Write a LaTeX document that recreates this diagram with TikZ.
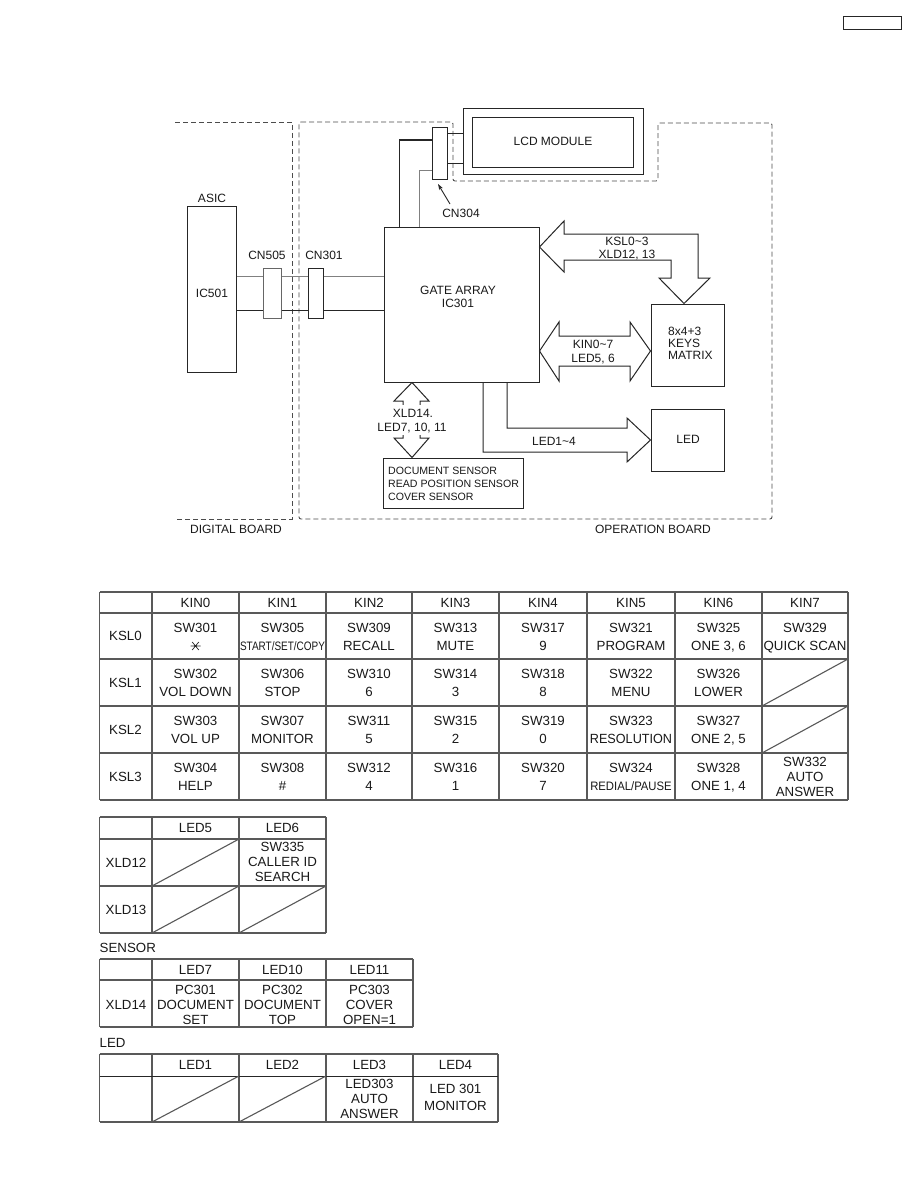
\documentclass[tikz,border=0pt]{standalone}
\usepackage{fontspec}
\usepackage{graphicx}
\setmainfont{Liberation Sans}
\usetikzlibrary{fit,arrows.meta}
\newcommand\mycell[5]{%
  \node[tb] (#1a) at (#2,#3+15) {#4};
  \node[tb] (#1b) at (#2,#3+33) {#5};}
\newcommand\mycelliii[6]{%
  \node[tb] (#1a) at (#2,#3) {#4};
  \node[tb] (#1b) at (#2,#3+15) {#5};
  \node[tb] (#1c) at (#2,#3+30) {#6};}
\begin{document}
\begin{tikzpicture}[x=1pt,y=-1pt,
  ln/.style={draw=black!85,line width=1pt},
  lg/.style={draw=black!50,line width=1pt},
  dsh/.style={draw=black!70,line width=0.9pt,dash pattern=on 5pt off 3pt},
  box/.style={ln,inner sep=0pt,fit={#1}},
  tl/.style={draw=black!65,line width=1.1pt},
  tb/.style={inner sep=0pt,text=black!90,font=\fontsize{13.3}{15}\selectfont,text height=9.5pt,text depth=0pt},
  bd/.style={inner sep=0pt,text=black!90,font=\fontsize{12}{14}\selectfont,text height=8.6pt,text depth=0pt},
  sm/.style={inner sep=0pt,text=black!90,font=\fontsize{10.6}{12}\selectfont,text height=7.6pt,text depth=0pt}]
\useasboundingbox[fill=white] (0,0) rectangle (918,1188);

% top-right empty box
\node[box={(843,17)(901,30)}] (corner) {};

% ---------- block diagram ----------
\draw[dsh] (175,122) -- (292,122) -- (292,519) -- (175,519);
\draw[dsh,rounded corners=2pt] (299,122) -- (453,122) -- (453,181) -- (658,181) -- (658,123) -- (772,123) -- (772,519) -- (299,519) -- cycle;

\node[box={(463,108.5)(643,174)}] (lcdout) {};
\node[box={(472,118)(633,167)}] (lcd) {};
\node[bd] (lcdt) at (553,141) {LCD MODULE};

\node[box={(432,128)(447,179)}] (cn304) {};
\draw[ln] (cn304.east |- 0,134) -- (lcdout.west |- 0,134);
\draw[ln] (cn304.east |- 0,163) -- (lcdout.west |- 0,163);

\node[box={(187,206)(236,372)}] (asic) {};
\node[bd] (asict) at (212,198) {ASIC};
\node[bd] (ic501) at (212,293) {IC501};

\node[box={(263,268)(281,318)},draw=black!60] (cn505) {};
\node[box={(308,268)(323,318)}] (cn301) {};
\node[bd] (cn505t) at (267,255) {CN505};
\node[bd] (cn301t) at (324,255) {CN301};

\node[box={(384,227)(539,382)}] (gate) {};
\node[bd] (gatet) at (458,290) {GATE ARRAY};
\node[bd] (ic301) at (458,303) {IC301};

\draw[lg] (asic.east |- 0,276) -- (cn505.west |- 0,276);
\draw[lg] (cn505.east |- 0,276) -- (cn301.west |- 0,276);
\draw[lg] (cn301.east |- 0,276) -- (gate.west |- 0,276);
\draw[ln] (asic.east |- 0,310) -- (cn505.west |- 0,310);
\draw[ln] (cn505.east |- 0,310) -- (cn301.west |- 0,310);
\draw[ln] (cn301.east |- 0,310) -- (gate.west |- 0,310);

\draw[ln] (cn304.west |- 0,140) -- (399,140) -- (gate.north -| 399,0);
\draw[lg] (cn304.west |- 0,170) -- (419,170) -- (gate.north -| 419,0);

\node[bd] (cn304t) at (461,213) {CN304};
\coordinate (cn304p) at (438,184);
\draw[draw=black!85,line width=0.9pt,-{Stealth[length=6pt,width=4pt]}] (450,204) -- (cn304p);

\node[box={(651,304)(724,386)}] (keys) {};
\node[bd,anchor=west] (keys1) at (668,331) {8x4+3};
\node[bd,anchor=west] (keys2) at (668,343) {KEYS};
\node[bd,anchor=west] (keys3) at (668,355) {MATRIX};

\node[box={(651,409)(724,471)}] (led) {};
\node[bd] (ledt) at (688,439) {LED};

\node[box={(383,458)(523,508)}] (sensor) {};
\node[sm,anchor=west] (sen1) at (388,471) {DOCUMENT SENSOR};
\node[sm,anchor=west] (sen2) at (388,484) {READ POSITION SENSOR};
\node[sm,anchor=west] (sen3) at (388,497) {COVER SENSOR};

% KSL arrow
\draw[ln,line join=miter] (gate.east |- 0,247) -- (564,221) -- (564,234) -- (698,234) -- (698,278) -- (710,278) -- (keys.north -| 684,0) -- (659,278) -- (671,278) -- (671,260) -- (564,260) -- (564,272) -- cycle;
\node[bd] (kslt) at (627,241) {KSL0\textasciitilde3};
\node[bd] (xld1213) at (627,254) {XLD12, 13};

% KIN arrow
\draw[ln,line join=miter] (gate.east |- 0,351) -- (559,322) -- (559,336) -- (630,336) -- (630,322) -- (keys.west |- 0,351) -- (630,381) -- (630,366) -- (559,366) -- (559,381) -- cycle;
\node[bd] (kint) at (593,344) {KIN0\textasciitilde7};
\node[bd] (led56) at (593,358) {LED5, 6};

% LED arrow
\draw[ln,line join=miter] (gate.south -| 507,0) -- (507,428) -- (627,428) -- (627,418) -- (led.west |- 0,440) -- (627,462) -- (627,452) -- (483,452) -- (gate.south -| 483,0);
\node[bd] (led14) at (554,441) {LED1\textasciitilde4};

% XLD14 arrow
\draw[ln,line join=miter] (gate.south -| 412,0) -- (429,401) -- (420,401) -- (420,438) -- (429,438) -- (sensor.north -| 412,0) -- (394,438) -- (403,438) -- (403,401) -- (394,401) -- cycle;
\node[bd,fill=white,inner xsep=1pt,inner ysep=3.5pt] (xld14a) at (413,413) {XLD14.};
\node[bd,fill=white,inner xsep=1pt,inner ysep=3.5pt] (xld14b) at (412,427) {LED7, 10, 11};

\node[bd] (dig) at (236,529) {DIGITAL BOARD};
\node[bd] (opb) at (653,529) {OPERATION BOARD};

% ---------- main key table ----------
\foreach \x in {99.5,152,239,326,412,499,587,675,762,848} \draw[tl] (\x,592) -- (\x,800);
\foreach \y in {592,613,659,706,753,800} \draw[tl] (99.5,\y) -- (848,\y);
\foreach \n/\x in {0/195.5,1/282.5,2/369,3/455.5,4/543,5/631,6/718.5,7/805}
  \node[tb] (kin\n) at (\x,603) {KIN\n};
\foreach \n/\y in {0/636,1/682.5,2/729.5,3/776.5}
  \node[tb] (ksl\n) at (125.5,\y) {KSL\n};

% KSL0
\node[tb] (c00a) at (195.5,628) {SW301};
\node[inner sep=0pt,minimum size=10pt] (c00b) at (195.5,646) {};
\draw[draw=black!85,line width=0.7pt] ([xshift=-5pt]c00b.center) -- ([xshift=5pt]c00b.center)
  ([shift={(-3.3pt,4pt)}]c00b.center) -- ([shift={(3.3pt,-4pt)}]c00b.center)
  ([shift={(-3.3pt,-4pt)}]c00b.center) -- ([shift={(3.3pt,4pt)}]c00b.center);
\node[tb] (c10a) at (282.5,628) {SW305};
\node[tb] (c10b) at (282.5,646) {\scalebox{0.75}[0.92]{START/SET/COPY}};
\mycell{c20}{369}{613}{SW309}{RECALL}
\mycell{c30}{455.5}{613}{SW313}{MUTE}
\mycell{c40}{543}{613}{SW317}{9}
\mycell{c50}{631}{613}{SW321}{PROGRAM}
\mycell{c60}{718.5}{613}{SW325}{ONE 3, 6}
\mycell{c70}{805}{613}{SW329}{QUICK SCAN}
% KSL1
\mycell{c01}{195.5}{659}{SW302}{VOL DOWN}
\mycell{c11}{282.5}{659}{SW306}{STOP}
\mycell{c21}{369}{659}{SW310}{6}
\mycell{c31}{455.5}{659}{SW314}{3}
\mycell{c41}{543}{659}{SW318}{8}
\mycell{c51}{631}{659}{SW322}{MENU}
\mycell{c61}{718.5}{659}{SW326}{LOWER}
\draw[tl] (762,706) -- (848,659);
% KSL2
\mycell{c02}{195.5}{706}{SW303}{VOL UP}
\mycell{c12}{282.5}{706}{SW307}{MONITOR}
\mycell{c22}{369}{706}{SW311}{5}
\mycell{c32}{455.5}{706}{SW315}{2}
\mycell{c42}{543}{706}{SW319}{0}
\node[tb] (c52a) at (631,721) {SW323};
\node[tb] (c52b) at (631,739) {\scalebox{0.95}[1]{RESOLUTION}};
\mycell{c62}{718.5}{706}{SW327}{ONE 2, 5}
\draw[tl] (762,753) -- (848,706);
% KSL3
\mycell{c03}{195.5}{753}{SW304}{HELP}
\mycell{c13}{282.5}{753}{SW308}{\#}
\mycell{c23}{369}{753}{SW312}{4}
\mycell{c33}{455.5}{753}{SW316}{1}
\mycell{c43}{543}{753}{SW320}{7}
\node[tb] (c53a) at (631,768) {SW324};
\node[tb] (c53b) at (631,786) {\scalebox{0.85}[0.92]{REDIAL/PAUSE}};
\mycell{c63}{718.5}{753}{SW328}{ONE 1, 4}
\mycelliii{c73}{805}{762}{SW332}{AUTO}{ANSWER}

% ---------- LED5/LED6 table ----------
\foreach \x in {99.5,152,239,326} \draw[tl] (\x,817) -- (\x,933);
\foreach \y in {817,839,886,933} \draw[tl] (99.5,\y) -- (326,\y);
\node[tb] (h5) at (195.5,828) {LED5};
\node[tb] (h6) at (282.5,828) {LED6};
\node[tb] (x12) at (126,862.5) {XLD12};
\node[tb] (x13) at (126,909.5) {XLD13};
\mycelliii{sw335}{282.5}{847}{SW335}{CALLER ID}{SEARCH}
\draw[tl] (152,886) -- (239,839);
\draw[tl] (152,933) -- (239,886);
\draw[tl] (239,933) -- (326,886);

% ---------- SENSOR table ----------
\node[tb,anchor=west] (sensl) at (99.5,948) {SENSOR};
\foreach \x in {99.5,152,239,326,413} \draw[tl] (\x,959) -- (\x,1027);
\foreach \y in {959,980,1027} \draw[tl] (99.5,\y) -- (413,\y);
\node[tb] (h7) at (195.5,970) {LED7};
\node[tb] (h10) at (282.5,970) {LED10};
\node[tb] (h11) at (369.5,970) {LED11};
\node[tb] (x14) at (126,1005) {XLD14};
\mycelliii{pc1}{195.5}{990}{PC301}{DOCUMENT}{SET}
\mycelliii{pc2}{282.5}{990}{PC302}{DOCUMENT}{TOP}
\mycelliii{pc3}{369.5}{990}{PC303}{COVER}{OPEN=1}

% ---------- LED table ----------
\node[tb,anchor=west] (ledl) at (99.5,1043) {LED};
\foreach \x in {99.5,152,239,326,413,498} \draw[tl] (\x,1054) -- (\x,1122);
\foreach \y in {1054,1122} \draw[tl] (99.5,\y) -- (498,\y);
\draw[ln] (99.5,1076) -- (498,1076);
\node[tb] (l1) at (195.5,1065) {LED1};
\node[tb] (l2) at (282.5,1065) {LED2};
\node[tb] (l3) at (369.5,1065) {LED3};
\node[tb] (l4) at (455.5,1065) {LED4};
\draw[tl] (152,1122) -- (239,1076);
\draw[tl] (239,1122) -- (326,1076);
\mycelliii{l303}{369.5}{1084}{LED303}{AUTO}{ANSWER}
\node[tb] (l301a) at (455.5,1089) {LED 301};
\node[tb] (l301b) at (455.5,1106) {MONITOR};
\end{tikzpicture}
\end{document}
